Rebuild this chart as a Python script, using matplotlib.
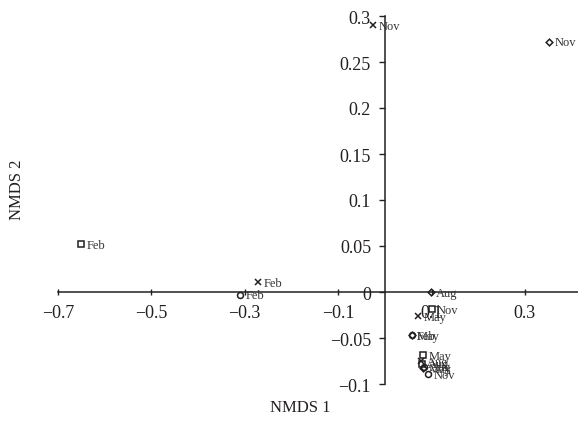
import matplotlib
matplotlib.use("Agg")
import matplotlib.pyplot as plt

# Data (NMDS coordinates) per series
cross_x = [-0.026, -0.272, 0.071, 0.078]
cross_y = [0.290, 0.011, -0.026, -0.075]
cross_lab = ["Nov", "Feb", "May", "Aug"]

square_x = [-0.650, 0.100, 0.082, 0.080]
square_y = [0.052, -0.019, -0.069, -0.078]
square_lab = ["Feb", "Nov", "May", "Aug"]

circle_x = [-0.310, 0.057, 0.084, 0.092]
circle_y = [-0.003, -0.047, -0.081, -0.089]
circle_lab = ["Feb", "May", "Aug", "Nov"]

diamond_x = [0.351, 0.098, 0.057, 0.081]
diamond_y = [0.272, 0.000, -0.047, -0.083]
diamond_lab = ["Nov", "Aug", "Feb", "May"]

xticks = [-0.7, -0.5, -0.3, -0.1, 0.1, 0.3]
xticklabels = ["\u22120.7", "\u22120.5", "\u22120.3", "\u22120.1", "0.1", "0.3"]
yticks = [-0.1, -0.05, 0, 0.05, 0.1, 0.15, 0.2, 0.25, 0.3]
yticklabels = ["\u22120.1", "\u22120.05", "0", "0.05", "0.1", "0.15", "0.2", "0.25", "0.3"]

plt.rcParams['font.family'] = ['Liberation Serif', 'DejaVu Serif']
col = '#231f20'

W, H = 578, 427
fig = plt.figure(figsize=(W / 100, H / 100), dpi=100)
xmin, xmax = -0.7, 0.415
ymin, ymax = -0.1, 0.3
pxx = 467.0  # px per unit x
pxy = 920.0  # px per unit y
left = 58 / W
bottom = (H - 385) / H
ax = fig.add_axes([left, bottom, (xmax - xmin) * pxx / W, (ymax - ymin) * pxy / H])
ax.set_xlim(xmin, xmax)
ax.set_ylim(ymin, ymax)
ax.patch.set_visible(False)

series = [
    (cross_x, cross_y, cross_lab, dict(marker='x', markersize=4.2, markeredgewidth=1.1)),
    (square_x, square_y, square_lab, dict(marker='s', markersize=4.3, markerfacecolor='none', markeredgewidth=1.1)),
    (circle_x, circle_y, circle_lab, dict(marker='o', markersize=4.3, markerfacecolor='none', markeredgewidth=1.1)),
    (diamond_x, diamond_y, diamond_lab, dict(marker='D', markersize=3.4, markerfacecolor='none', markeredgewidth=1.1)),
]
for xs, ys, labs, style in series:
    ax.plot(xs, ys, linestyle='none', color=col, markeredgecolor=col, zorder=3, **style)
    for x, y, t in zip(xs, ys, labs):
        ax.annotate(t, (x, y), xytext=(4, -0.5), textcoords='offset points',
                    fontsize=9, color='#333333', ha='left', va='center', zorder=4)

for s in ['top', 'right']:
    ax.spines[s].set_visible(False)
ax.spines['left'].set_position(('data', 0))
ax.spines['bottom'].set_position(('data', 0))
for s in ['left', 'bottom']:
    ax.spines[s].set_color(col)
    ax.spines[s].set_linewidth(1.1)

ax.set_xticks(xticks)
ax.set_xticklabels(xticklabels)
ax.set_yticks(yticks)
ax.set_yticklabels(yticklabels)
ax.tick_params(axis='y', direction='out', length=4, width=1, color=col,
               labelsize=13, labelcolor=col, pad=6)
ax.tick_params(axis='x', direction='inout', length=4, width=1, color=col,
               labelsize=13, labelcolor=col, pad=7)

fig.text(300 / W, 1 - 408 / H, "NMDS 1", ha='center', va='center', fontsize=12, color=col)
fig.text(17 / W, 1 - 190 / H, "NMDS 2", ha='center', va='center', rotation=90, fontsize=12, color=col)

fig.savefig("out.png", dpi=100)
